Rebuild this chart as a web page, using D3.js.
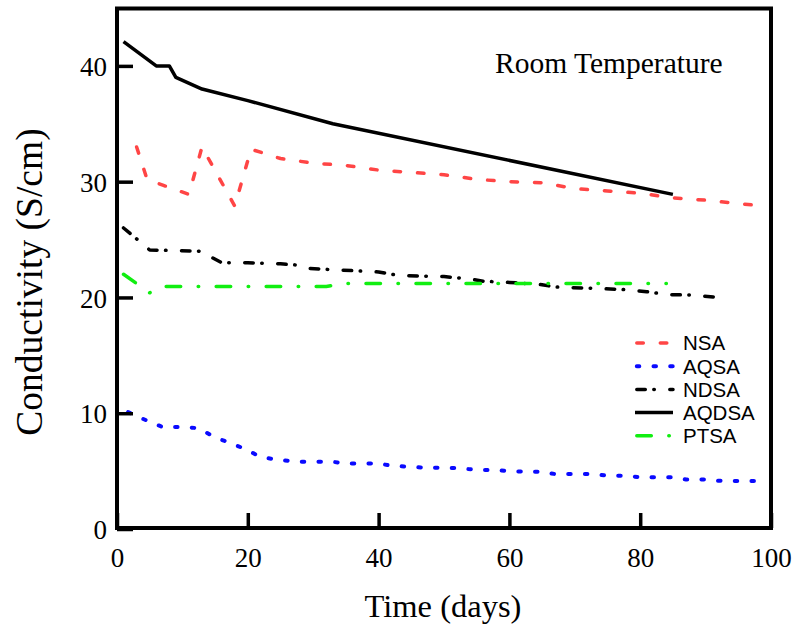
<!DOCTYPE html>
<html>
<head>
<meta charset="utf-8">
<script src="https://cdn.jsdelivr.net/npm/d3@7"></script>
<style>
  html, body { margin: 0; padding: 0; background: #fff; }
  svg { display: block; }
</style>
</head>
<body>
<svg id="chart" width="796" height="631"></svg>
<script>
// ---- data ----
const seriesNames = ["NSA", "AQSA", "NDSA", "AQDSA", "PTSA"];

const nsaData = [[3,33.0],[4.6,30.2],[7,29.7],[11,28.9],[13,33.0],[18,27.9],[20.5,32.8],[25,32.0],[30,31.6],[35,31.4],[40,31.0],[45,30.8],[50,30.6],[55,30.2],[60,30.0],[65,29.9],[70,29.4],[75,29.2],[80,29.0],[85,28.6],[90,28.4],[97,28.0]];
const aqsaData = [[1.7,10.1],[4.8,9.3],[7,8.8],[10.5,8.8],[12.5,8.7],[15,7.9],[17.5,7.4],[20,6.8],[22,6.2],[25,5.95],[28,5.8],[33,5.8],[35,5.66],[40,5.66],[42,5.46],[47,5.3],[52,5.27],[55,5.1],[58,5.1],[60,4.97],[65,4.95],[67,4.74],[73,4.74],[75,4.6],[78,4.6],[80,4.46],[85,4.46],[87,4.28],[90,4.28],[92,4.16],[97.5,4.15]];
const ndsaData = [[1,26.0],[2.5,25.3],[5,24.1],[12.5,24.0],[14,23.6],[16,23.0],[20,23.0],[25,22.9],[27.5,22.8],[29.5,22.5],[33,22.4],[40,22.2],[43,21.9],[50,21.8],[54,21.6],[56,21.4],[60,21.3],[65,21.1],[67,20.9],[72,20.8],[77,20.7],[81,20.5],[84,20.25],[88,20.2],[92,20.0]];
const aqdsaData = [[1,42.1],[6,40.0],[8,40.0],[9,39.0],[13,38.0],[20,37.0],[33,35.0],[85,28.9]];
const ptsaData = [[1,22.0],[5,20.4],[7,20.95],[32,20.95],[35,21.2],[84,21.2]];

const xTicks = [0, 20, 40, 60, 80, 100];
const yTicks = [0, 10, 20, 30, 40];

const titleText = "Room Temperature";
const xLabel = "Time (days)";
const yLabel = "Conductivity (S/cm)";

// ---- styles ----
const styles = {
  NSA:   { color: "#ff4545", width: 3.5, dash: "6.5,17", cap: "round" },
  AQSA:  { color: "#0a0aff", width: 4,   dash: "2.5,14.2", cap: "round" },
  NDSA:  { color: "#000000", width: 3.5, dash: "8.5,8.5,0.5,15.5", cap: "round" },
  AQDSA: { color: "#000000", width: 3.5, dash: null, cap: "butt" },
  PTSA:  { color: "#11ee11", width: 3.5, dash: "14.5,17.5,0.5,17.5", cap: "round" }
};
const dataBySeries = { NSA: nsaData, AQSA: aqsaData, NDSA: ndsaData, AQDSA: aqdsaData, PTSA: ptsaData };

const svg = d3.select("#chart");
const x = d3.scaleLinear().domain([0, 100]).range([117, 771]);
const y = d3.scaleLinear().domain([0, 45]).range([529, 8]);

const serif = "'Liberation Serif', 'Times New Roman', Times, serif";
const sans = "'Liberation Sans', Arial, Helvetica, sans-serif";

// data lines
const line = d3.line().x(d => x(d[0])).y(d => y(d[1]));
const lineOrder = ["AQDSA", "NSA", "NDSA", "PTSA", "AQSA"];
lineOrder.forEach(name => {
  const s = styles[name];
  svg.append("path")
    .datum(dataBySeries[name])
    .attr("d", line)
    .attr("fill", "none")
    .attr("stroke", s.color)
    .attr("stroke-width", s.width)
    .attr("stroke-linecap", s.cap)
    .attr("stroke-linejoin", "round")
    .attr("stroke-dasharray", s.dash);
});

// frame
svg.append("rect")
  .attr("x", x(0)).attr("y", y(45) + 0.5)
  .attr("width", x(100) - x(0)).attr("height", y(0) - y(45) - 1.5)
  .attr("fill", "none").attr("stroke", "#000").attr("stroke-width", 4);

// x axis
const xAxis = svg.append("g")
  .attr("transform", `translate(0,${y(0) - 1})`)
  .call(d3.axisBottom(x).tickValues(xTicks).tickSize(-15).tickSizeOuter(0).tickFormat(d3.format("d")));
xAxis.select(".domain").remove();
xAxis.selectAll(".tick line").attr("stroke", "#000").attr("stroke-width", 3.5);
xAxis.selectAll(".tick text")
  .attr("y", 39).attr("dy", 0)
  .attr("font-family", serif).attr("font-size", 27).attr("fill", "#000");

// y axis
const yAxis = svg.append("g")
  .attr("transform", `translate(${x(0)},0)`)
  .call(d3.axisLeft(y).tickValues(yTicks).tickSize(-16).tickSizeOuter(0).tickPadding(10).tickFormat(d3.format("d")));
yAxis.select(".domain").remove();
yAxis.selectAll(".tick line").attr("stroke", "#000").attr("stroke-width", 3.5);
yAxis.selectAll(".tick text")
  .attr("x", -10).attr("dy", "0.36em")
  .attr("font-family", serif).attr("font-size", 27).attr("fill", "#000");

// title
svg.append("text")
  .attr("x", 495).attr("y", 73)
  .attr("font-family", serif).attr("font-size", 29.5).attr("fill", "#000")
  .text(titleText);

// axis labels
svg.append("text")
  .attr("x", 443).attr("y", 617)
  .attr("text-anchor", "middle")
  .attr("font-family", serif).attr("font-size", 32.5).attr("fill", "#000")
  .text(xLabel);

svg.append("text")
  .attr("transform", "translate(41.5,282) rotate(-90)")
  .attr("text-anchor", "middle")
  .attr("font-family", serif).attr("font-size", 37.5).attr("fill", "#000")
  .text(yLabel);

// legend
const legend = svg.append("g");
seriesNames.forEach((name, i) => {
  const s = styles[name];
  const ly = 343 + i * 23.2;
  legend.append("line")
    .attr("x1", name === "AQDSA" ? 635 : 636.8).attr("x2", 673)
    .attr("y1", ly).attr("y2", ly)
    .attr("stroke", s.color).attr("stroke-width", s.width)
    .attr("stroke-linecap", s.cap)
    .attr("stroke-dasharray", s.dash);
  legend.append("text")
    .attr("x", 683).attr("y", ly).attr("dy", "0.36em")
    .attr("font-family", sans).attr("font-size", 20.5).attr("fill", "#000")
    .text(name);
});
</script>
</body>
</html>
